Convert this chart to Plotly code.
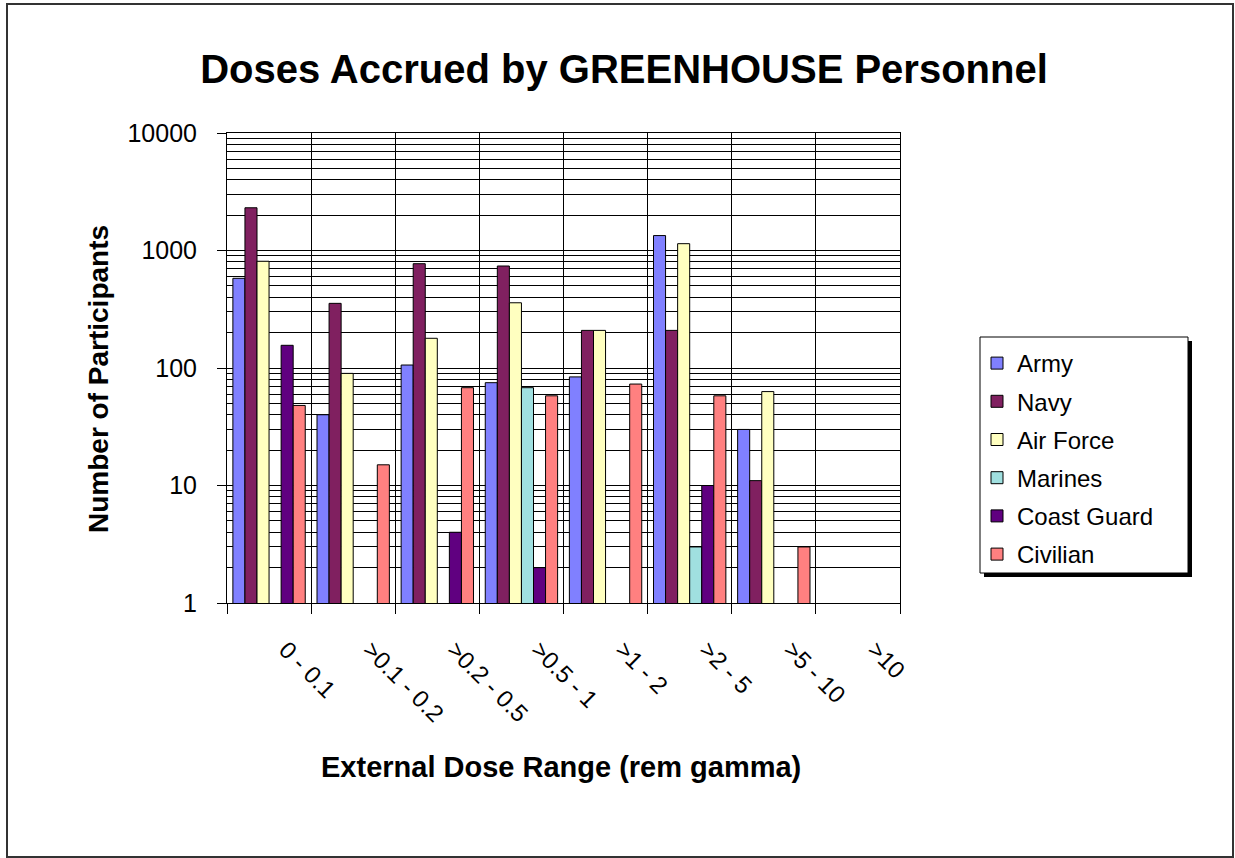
import plotly.graph_objects as go

categories = ["0 - 0.1", ">0.1 - 0.2", ">0.2 - 0.5", ">0.5 - 1", ">1 - 2", ">2 - 5", ">5 - 10", ">10"]
army        = [580, 40, 106, 75, 84, 1340, 30, None]
navy        = [2310, 355, 772, 738, 209, 209, 11, None]
air_force   = [810, 90, 179, 359, 209, 1143, 63, None]
marines     = [None, None, None, 68, None, 3, None, None]
coast_guard = [156, None, 4, 2, None, 10, None, None]
civilian    = [48, 15, 68, 58, 73, 58, 3, None]

series = [
    ("Army", army, "#8080FF"),
    ("Navy", navy, "#802060"),
    ("Air Force", air_force, "#FFFFC0"),
    ("Marines", marines, "#A0E0E0"),
    ("Coast Guard", coast_guard, "#600080"),
    ("Civilian", civilian, "#FF8080"),
]

FONT = "Arial, Liberation Sans, sans-serif"

fig = go.Figure()
for name, vals, color in series:
    fig.add_trace(go.Bar(
        x=categories, y=vals, name=name, legendgroup=name,
        marker=dict(color=color, line=dict(color="black", width=1)),
    ))

# empty helper trace so the label axis (x2) exists
fig.add_trace(go.Scatter(x=[], y=[], xaxis="x2", showlegend=False, hoverinfo="skip"))

L, R, T, B = 227, 900, 133, 603
W, H = 1235, 858
pw, ph = R - L, B - T

def px(x):
    return (x - L) / pw

def py(y):
    return (B - y) / ph

n = len(categories)
label_shift = 0.2  # labels sit a little right of the category centres

fig.update_layout(
    width=W, height=H,
    margin=dict(l=L, r=W - R, t=T, b=H - B, pad=0),
    paper_bgcolor="white", plot_bgcolor="white",
    barmode="group", bargap=0.14, bargroupgap=0,
    font=dict(family=FONT, size=24, color="black"),
    title=dict(text="Doses Accrued by GREENHOUSE Personnel",
               font=dict(family=FONT, size=40, weight="bold", color="black"),
               x=px(624), xref="paper", xanchor="center",
               y=1 - 69 / H, yref="container", yanchor="middle"),
    showlegend=True,
    legend=dict(x=px(977), y=py(341), xanchor="left", yanchor="top",
                bgcolor="rgba(0,0,0,0)", borderwidth=0,
                font=dict(family=FONT, size=24, color="black"),
                tracegroupgap=4, traceorder="grouped",
                itemwidth=30),
    xaxis=dict(
        type="category", tickson="boundaries",
        showgrid=True, gridcolor="black", gridwidth=1,
        showline=True, linecolor="black", linewidth=1, mirror=True,
        ticks="outside", ticklen=10, tickcolor="black",
        showticklabels=False,
    ),
    xaxis2=dict(
        overlaying="x", anchor="y", side="bottom",
        range=[-0.5, n - 0.5], fixedrange=True,
        showgrid=False, zeroline=False, showline=False, ticks="",
        tickmode="array",
        tickvals=[i + label_shift for i in range(n)],
        ticktext=categories,
        tickangle=45, tickfont=dict(family=FONT, size=24),
        ticklabelstandoff=27,
    ),
    yaxis=dict(
        type="log", range=[0, 4],
        tickvals=[1, 10, 100, 1000, 10000],
        ticktext=["1", "10", "100", "1000", "10000"],
        showgrid=True, gridcolor="black", gridwidth=1,
        minor=dict(dtick="D1", showgrid=True, gridcolor="black", gridwidth=1, ticks=""),
        showline=True, linecolor="black", linewidth=1, mirror=True,
        ticks="outside", ticklen=9, tickcolor="black",
        tickfont=dict(family=FONT, size=25),
        ticklabelstandoff=15,
    ),
)

# axis titles
fig.add_annotation(text="<b>Number of Participants</b>", xref="paper", yref="paper",
                   x=px(98), y=py(379), xanchor="center", yanchor="middle",
                   textangle=-90, showarrow=False,
                   font=dict(family=FONT, size=28, color="black"))
fig.add_annotation(text="<b>External Dose Range (rem gamma)</b>", xref="paper", yref="paper",
                   x=px(561), y=py(767), xanchor="center", yanchor="middle",
                   showarrow=False, font=dict(family=FONT, size=29, color="black"))

# outer chart border
fig.add_shape(type="rect", xref="paper", yref="paper",
              x0=px(7), x1=px(1233), y0=py(857), y1=py(4),
              line=dict(color="#333333", width=2), fillcolor="rgba(0,0,0,0)", layer="below")
# legend shadow and box
fig.add_shape(type="rect", xref="paper", yref="paper",
              x0=px(984), x1=px(1192), y0=py(577), y1=py(341),
              line=dict(color="black", width=0), fillcolor="black", layer="above")
fig.add_shape(type="rect", xref="paper", yref="paper",
              x0=px(980), x1=px(1188), y0=py(573), y1=py(337),
              line=dict(color="black", width=1), fillcolor="white", layer="above")

fig.write_html("out.html", config={"displayModeBar": False},
               post_script="document.body.style.margin='0';")
